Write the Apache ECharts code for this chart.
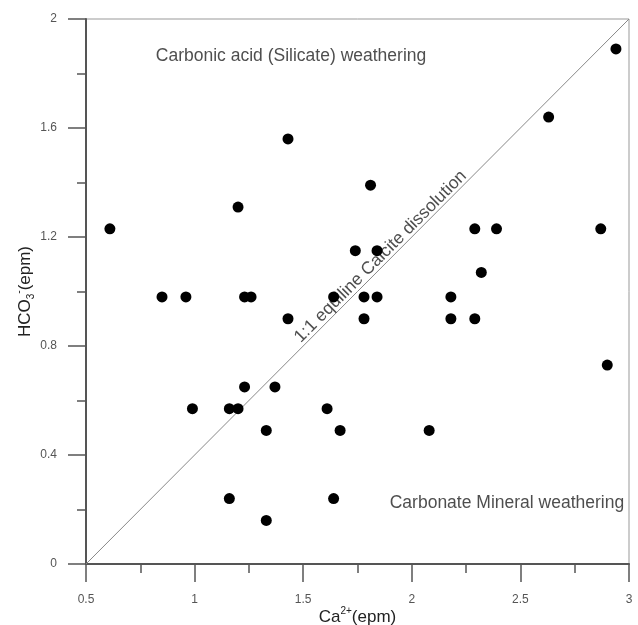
<!DOCTYPE html>
<html>
<head>
<meta charset="utf-8">
<script src="https://cdn.jsdelivr.net/npm/echarts@6/dist/echarts.min.js"></script>
<style>
  html, body { margin: 0; padding: 0; background: #fff; }
  #chart { width: 638px; height: 625px; }
</style>
</head>
<body>
<div id="chart"></div>
<script>
// Ca2+ (epm) vs HCO3- (epm) sample points
const caValues = [
  0.61, 0.85, 0.96, 0.99, 1.16, 1.20, 1.20, 1.23, 1.26, 1.23,
  1.16, 1.33, 1.33, 1.37, 1.43, 1.43, 1.61, 1.67, 1.64, 1.64,
  1.74, 1.84, 1.78, 1.84, 1.78, 1.81, 2.18, 2.18, 2.29, 2.29,
  2.39, 2.32, 2.08, 2.63, 2.87, 2.90, 2.94,
];
const hco3Values = [
  1.23, 0.98, 0.98, 0.57, 0.57, 0.57, 1.31, 0.98, 0.98, 0.65,
  0.24, 0.16, 0.49, 0.65, 0.90, 1.56, 0.57, 0.49, 0.24, 0.98,
  1.15, 1.15, 0.98, 0.98, 0.90, 1.39, 0.98, 0.90, 0.90, 1.23,
  1.23, 1.07, 0.49, 1.64, 1.23, 0.73, 1.89,
];

// reference line from corner to corner
const equiline = [[0.5, 0], [3, 2]];

// text annotations placed in data coordinates
const notes = [
  { value: [1.444, 1.864], text: "Carbonic acid (Silicate) weathering", rotate: 0 },
  { value: [2.438, 0.224], text: "Carbonate Mineral weathering", rotate: 0 },
  { value: [1.856, 1.128], text: "1:1 equiline Calcite dissolution", rotate: 45 },
];

const FONT = "Liberation Sans";

const points = caValues.map((x, i) => [x, hco3Values[i]]);

const chart = echarts.init(document.getElementById("chart"));

const axisCommon = {
  axisLine: { show: true, onZero: false, lineStyle: { color: "#555", width: 2 } },
  axisTick: { show: true, inside: false, length: 18, lineStyle: { color: "#555", width: 1.5 } },
  minorTick: { show: true, splitNumber: 2, length: 9, lineStyle: { color: "#555", width: 1.5 } },
  splitLine: { show: false },
  axisLabel: { color: "#555", fontSize: 12, fontFamily: FONT },
  nameLocation: "middle",
  nameMoveOverlap: false,
};

const rich = {
  a: { fontSize: 17, fontFamily: FONT, color: "#222", lineHeight: 22 },
  sup: { fontSize: 10, fontFamily: FONT, color: "#222", lineHeight: 12, verticalAlign: "top" },
  sub: { fontSize: 10, fontFamily: FONT, color: "#222", lineHeight: 12, verticalAlign: "bottom" },
};

chart.setOption({
  animation: false,
  backgroundColor: "#fff",
  grid: {
    left: 86, right: 9, top: 19, bottom: 61,
    outerBoundsMode: "none",
    show: true, borderColor: "#999", borderWidth: 1,
  },
  xAxis: {
    ...axisCommon,
    type: "value",
    min: 0.5, max: 3, interval: 0.5,
    name: "{a|Ca}{sup|2+}{a|(epm)}",
    nameGap: 42,
    nameTextStyle: { rich },
    axisLabel: { ...axisCommon.axisLabel, margin: 30 },
  },
  yAxis: {
    ...axisCommon,
    type: "value",
    min: 0, max: 2, interval: 0.4,
    name: "{a|HCO}{sub|3}{sup|-}{a|(epm)}",
    nameGap: 50,
    nameTextStyle: { rich },
    axisLabel: { ...axisCommon.axisLabel, margin: 29 },
  },
  series: [
    {
      type: "line",
      data: equiline,
      symbol: "none",
      silent: true,
      lineStyle: { color: "#888", width: 1 },
      z: 1,
    },
    {
      type: "scatter",
      data: notes.map((n) => ({
        value: n.value,
        label: {
          show: true,
          position: "inside",
          formatter: n.text,
          rotate: n.rotate,
          color: "#222",
          fontSize: 17.5,
          fontFamily: FONT,
        },
      })),
      symbolSize: 0,
      silent: true,
      z: 2,
    },
    {
      type: "scatter",
      data: points,
      symbol: "circle",
      symbolSize: 11,
      itemStyle: { color: "#000", opacity: 1 },
      z: 3,
    },
  ],
});
</script>
</body>
</html>
